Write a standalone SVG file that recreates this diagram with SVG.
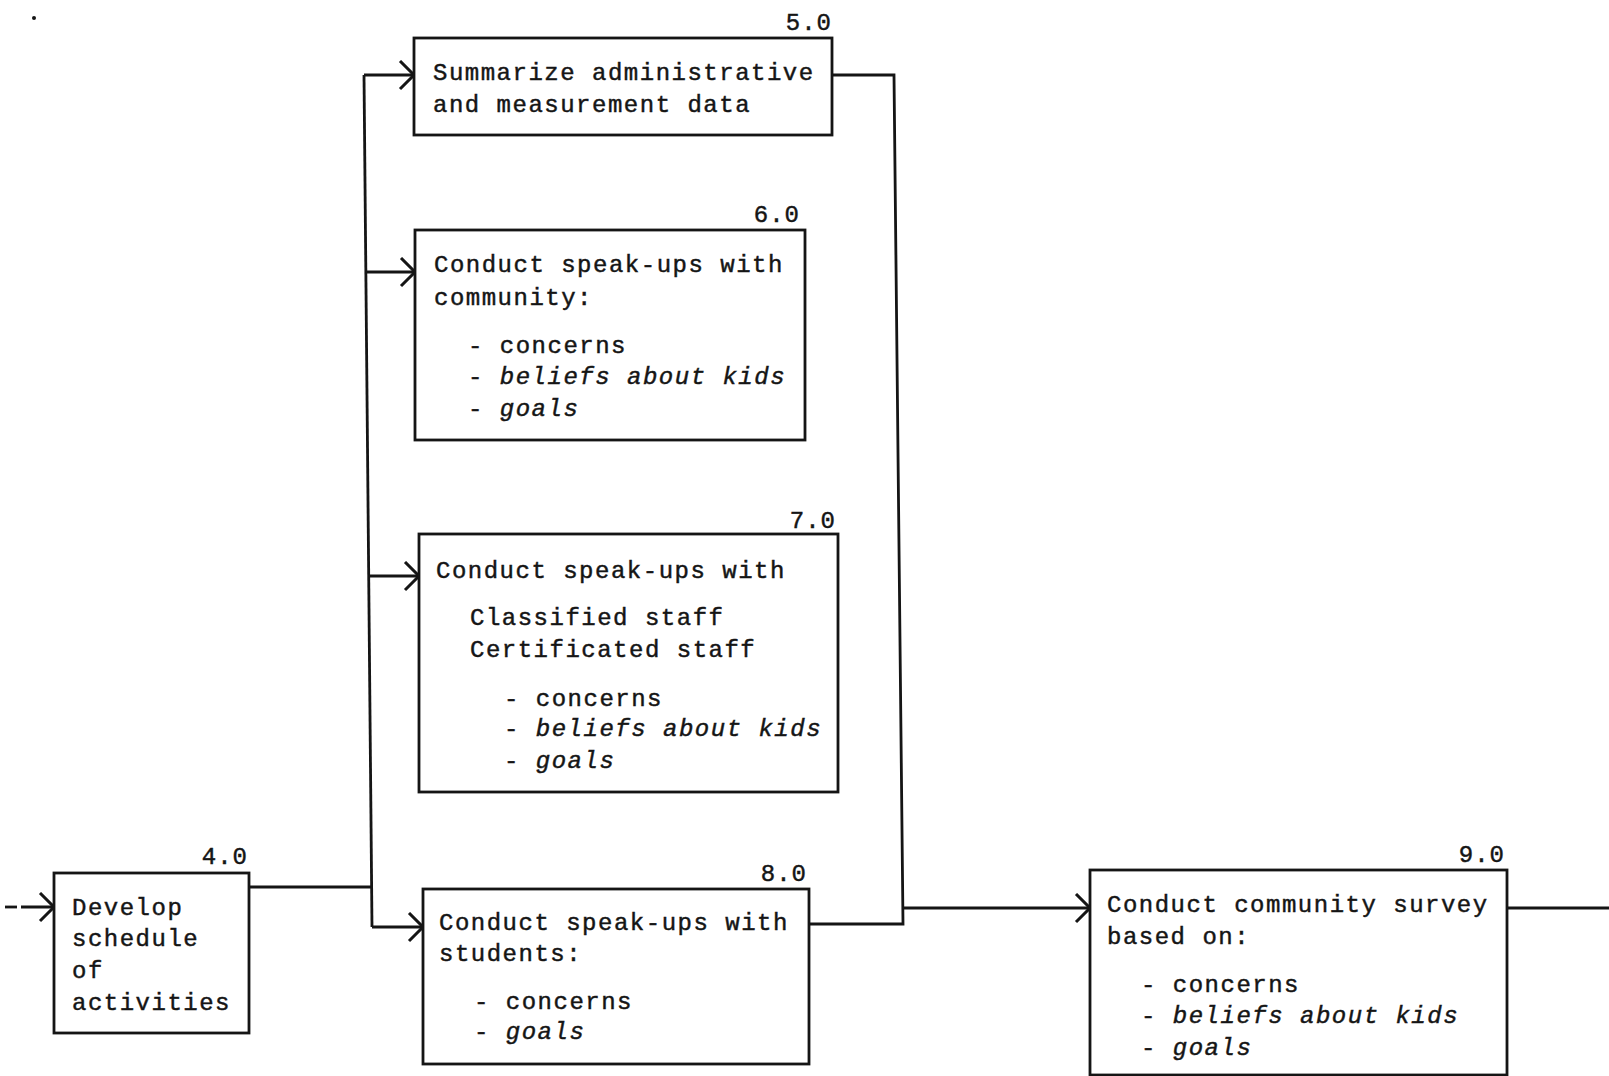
<svg xmlns="http://www.w3.org/2000/svg" width="1609" height="1076" viewBox="0 0 1609 1076">
  <style>
    .box { fill: #ffffff; stroke: #151515; stroke-width: 2.8; }
    .wire { fill: none; stroke: #151515; stroke-width: 2.8; }
    .t { font-family: "Liberation Mono", "DejaVu Sans Mono", monospace; font-size: 24px; letter-spacing: 1.5px; fill: #151515; stroke: #151515; stroke-width: 0.45; }
    .i { font-style: italic; }
    .num { font-family: "Liberation Mono", "DejaVu Sans Mono", monospace; font-size: 24px; letter-spacing: 1px; fill: #151515; stroke: #151515; stroke-width: 0.45; text-anchor: end; }
  </style>
  <defs>
    <!-- open chevron arrowhead used on every flow line -->
    <marker id="chev" markerUnits="userSpaceOnUse" markerWidth="20" markerHeight="32" refX="16" refY="15" orient="auto">
      <path d="M2,1 L16,15 L2,29" fill="none" stroke="#151515" stroke-width="3"/>
    </marker>
  </defs>
  <rect width="1609" height="1076" fill="#ffffff"/>
  <circle cx="34" cy="18" r="2" fill="#151515"/>

  <g id="connectors">
    <!-- incoming flow -->
    <line class="wire" x1="5" y1="907" x2="17" y2="907"/>
    <line class="wire" x1="21" y1="907" x2="54" y2="907" marker-end="url(#chev)"/>
    <!-- fan-out bus -->
    <polyline class="wire" points="249,887 371,887"/>
    <line class="wire" x1="364" y1="75" x2="372" y2="927"/>
    <line class="wire" x1="364" y1="75" x2="414" y2="75" marker-end="url(#chev)"/>
    <line class="wire" x1="366" y1="272" x2="415" y2="272" marker-end="url(#chev)"/>
    <line class="wire" x1="369" y1="576" x2="419" y2="576" marker-end="url(#chev)"/>
    <line class="wire" x1="372" y1="927" x2="423" y2="927" marker-end="url(#chev)"/>
    <!-- merge bus -->
    <polyline class="wire" points="832,75 894,75 903,924 809,924"/>
    <line class="wire" x1="903" y1="908" x2="1090" y2="908" marker-end="url(#chev)"/>
    <!-- outgoing flow -->
    <line class="wire" x1="1507" y1="908" x2="1609" y2="908"/>
  </g>

  <g id="node-4">
    <rect class="box" x="54" y="873" width="195" height="160"/>
    <text class="num" x="248" y="864">4.0</text>
    <text class="t" x="72" y="915">Develop</text>
    <text class="t" x="72" y="946">schedule</text>
    <text class="t" x="72" y="978">of</text>
    <text class="t" x="72" y="1010">activities</text>
  </g>

  <g id="node-5">
    <rect class="box" x="414" y="38" width="418" height="97"/>
    <text class="num" x="832" y="30">5.0</text>
    <text class="t" x="433" y="80">Summarize administrative</text>
    <text class="t" x="433" y="112">and measurement data</text>
  </g>

  <g id="node-6">
    <rect class="box" x="415" y="230" width="390" height="210"/>
    <text class="num" x="800" y="222">6.0</text>
    <text class="t" x="434" y="272">Conduct speak-ups with</text>
    <text class="t" x="434" y="305">community:</text>
    <text class="t" x="468" y="353">- concerns</text>
    <text class="t" x="468" y="384">- <tspan class="i">beliefs about kids</tspan></text>
    <text class="t" x="468" y="416">- <tspan class="i">goals</tspan></text>
  </g>

  <g id="node-7">
    <rect class="box" x="419" y="534" width="419" height="258"/>
    <text class="num" x="836" y="528">7.0</text>
    <text class="t" x="436" y="578">Conduct speak-ups with</text>
    <text class="t" x="470" y="625">Classified staff</text>
    <text class="t" x="470" y="657">Certificated staff</text>
    <text class="t" x="504" y="706">- concerns</text>
    <text class="t" x="504" y="736">- <tspan class="i">beliefs about kids</tspan></text>
    <text class="t" x="504" y="768">- <tspan class="i">goals</tspan></text>
  </g>

  <g id="node-8">
    <rect class="box" x="423" y="889" width="386" height="175"/>
    <text class="num" x="807" y="881">8.0</text>
    <text class="t" x="439" y="930">Conduct speak-ups with</text>
    <text class="t" x="439" y="961">students:</text>
    <text class="t" x="474" y="1009">- concerns</text>
    <text class="t" x="474" y="1039">- <tspan class="i">goals</tspan></text>
  </g>

  <g id="node-9">
    <rect class="box" x="1090" y="870" width="417" height="205"/>
    <text class="num" x="1505" y="862">9.0</text>
    <text class="t" x="1107" y="912">Conduct community survey</text>
    <text class="t" x="1107" y="944">based on:</text>
    <text class="t" x="1141" y="992">- concerns</text>
    <text class="t" x="1141" y="1023">- <tspan class="i">beliefs about kids</tspan></text>
    <text class="t" x="1141" y="1055">- <tspan class="i">goals</tspan></text>
  </g>
</svg>
